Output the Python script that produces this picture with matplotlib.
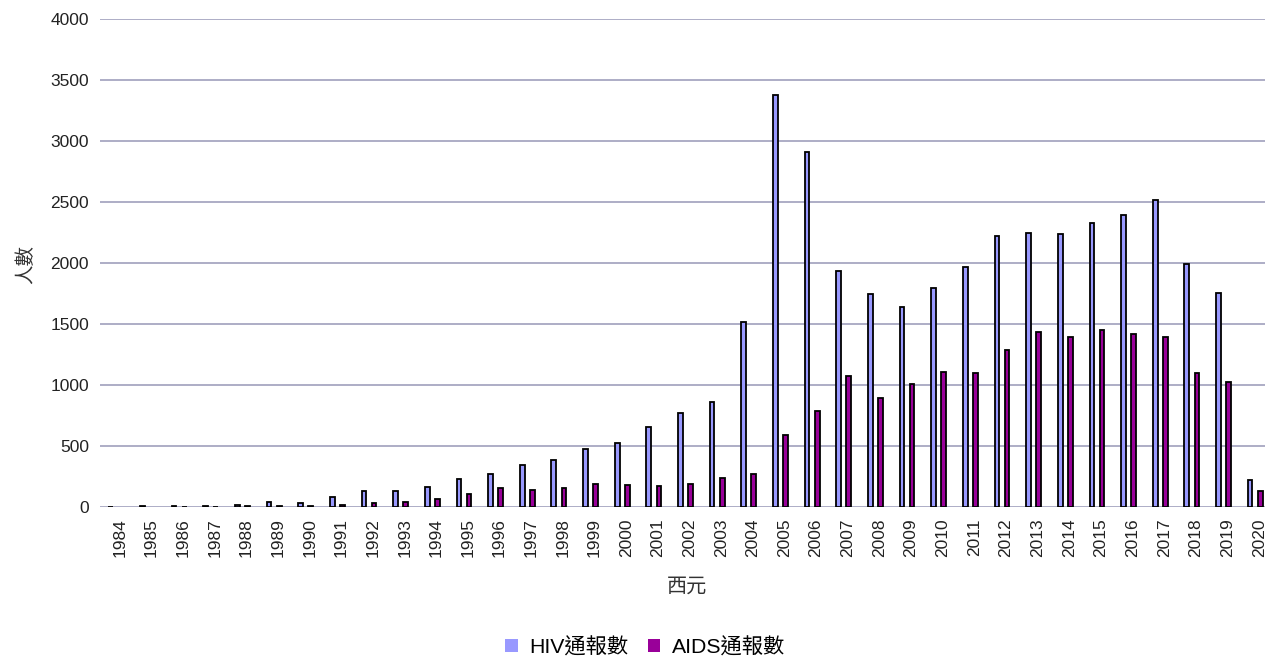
import matplotlib
matplotlib.use('agg')
import matplotlib.pyplot as plt
import matplotlib.patches as patches
from matplotlib.transforms import ScaledTranslation
import numpy as np

plt.rcParams['font.family'] = ['Liberation Sans', 'Noto Sans CJK TC']

YEARS = list(range(1984, 2021))

HIV = [2, 11, 8, 8, 19, 37, 32, 82, 131, 134, 167, 227, 270, 344, 388, 472,
       524, 652, 767, 857, 1518, 3374, 2912, 1932, 1743, 1639, 1795, 1967,
       2221, 2246, 2235, 2325, 2393, 2513, 1994, 1757, 219]

AIDS = [0, 0, 3, 2, 7, 10, 9, 19, 30, 41, 68, 104, 158, 137, 153, 186,
        180, 169, 186, 238, 270, 590, 790, 1076, 896, 1011, 1106, 1101,
        1289, 1432, 1391, 1448, 1415, 1391, 1098, 1022, 128]

LABELS = ['HIV通報數', 'AIDS通報數']
COLORS = ['#9999ff', '#990099']

W, H = 1265, 657
fig = plt.figure(figsize=(W / 100, H / 100), dpi=100)
ax = fig.add_axes([100 / W, 1 - 507 / H, 1165 / W, 488 / H])

x = np.arange(len(YEARS))
bw = 0.15
off = 0.16
# zero-height bars get no outline, like the original
for vals, sign, color in [(HIV, -1, COLORS[0]), (AIDS, 1, COLORS[1])]:
    lw = [1.3 if v > 0 else 0 for v in vals]
    ax.bar(x + sign * off, vals, bw, color=color, edgecolor='black', linewidth=lw, zorder=3)

ax.set_ylim(0, 4000)
ax.set_xlim(-0.5, 36.31)
ax.set_yticks(range(0, 4001, 500))
ax.set_xticks(x)
ax.set_xticklabels([str(y) for y in YEARS], rotation=90)
ax.tick_params(axis='both', length=0, labelsize=12.5, colors='#222222')
ax.tick_params(axis='x', pad=8)
ax.tick_params(axis='y', pad=8)
for lab in ax.get_xticklabels():
    lab.set_transform(lab.get_transform() + ScaledTranslation(4 / 100, 0, fig.dpi_scale_trans))

ax.grid(axis='y', color='#adadc6', linewidth=1.4, zorder=0)
ax.set_axisbelow(True)
for s in ax.spines.values():
    s.set_visible(False)

fig.text(687 / W, 1 - 586 / H, '西元', ha='center', va='center', fontsize=14.5, color='#333333')
fig.text(26 / W, 1 - 264 / H, '人數', ha='center', va='center', rotation=90,
         fontsize=14, color='#333333')

handles = [patches.Patch(facecolor=c, edgecolor='none') for c in COLORS]
fig.legend(handles, LABELS, loc='center', bbox_to_anchor=(645 / W, 1 - 647 / H),
           ncol=2, frameon=False, fontsize=15.3, handlelength=0.6, handleheight=0.6,
           handletextpad=0.55, columnspacing=0.9)

fig.savefig('out.png', dpi=100)
